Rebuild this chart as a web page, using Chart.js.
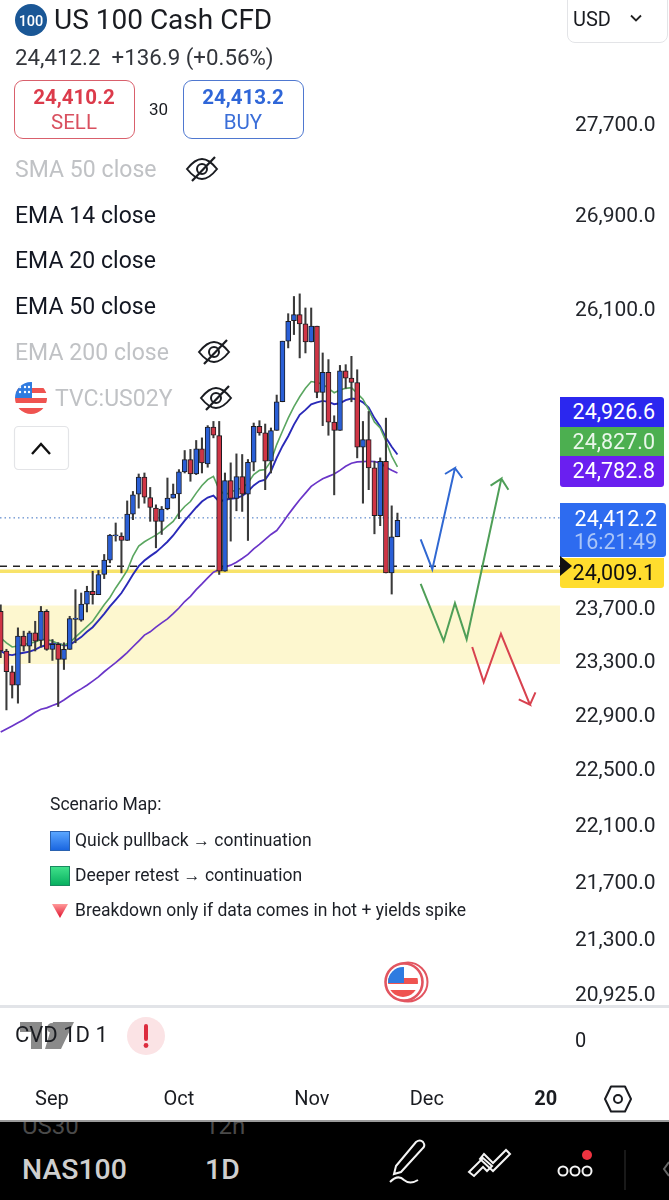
<!DOCTYPE html>
<html>
<head>
<meta charset="utf-8">
<script src="https://cdn.jsdelivr.net/npm/chart.js@4/dist/chart.umd.min.js"></script>
<style>
html,body{margin:0;padding:0;background:#fff;width:669px;height:1200px;overflow:hidden;font-family:Roboto,sans-serif;color:#131722}
#wrap{position:relative;width:669px;height:1200px;overflow:hidden}
canvas{position:absolute;left:0;top:0}
.t{position:absolute;white-space:nowrap;line-height:1}
.ind{font-size:23px;left:15px;letter-spacing:.05px}
.off{color:#c0c2c5}
.badge{position:absolute;left:560px;width:95px;padding-right:9px;text-align:right;color:#fff;font-size:21.5px;line-height:1}
.scn{font-size:17.5px;left:75px;color:#1c1f26}
svg{position:absolute;overflow:visible}
</style>
</head>
<body>
<div id="wrap">
<canvas id="c" width="669" height="1118"></canvas>

<!-- header -->
<svg style="left:15px;top:4px" width="32" height="32"><circle cx="16" cy="16" r="16" fill="#1a5796"/><text x="16" y="21.5" text-anchor="middle" font-family="Roboto" font-size="14.5" font-weight="500" fill="#fff">100</text></svg>
<div class="t" style="left:54px;top:6px;font-size:28px;color:#1a1c21">US 100 Cash CFD</div>
<div class="t" style="left:15px;top:46px;font-size:22.3px;color:#33363c">24,412.2&nbsp; +136.9 (+0.56%)</div>
<div style="position:absolute;left:14px;top:80px;width:119px;height:57px;border:1.5px solid #d9606c;border-radius:9px"></div>
<div class="t" style="left:14px;width:120px;text-align:center;top:87px;font-size:20.5px;font-weight:700;color:#dc3b4b">24,410.2</div>
<div class="t" style="left:14px;width:120px;text-align:center;top:112px;font-size:20.5px;color:#d9505f">SELL</div>
<div class="t" style="left:149px;top:101px;font-size:17px;color:#1a1c21">30</div>
<div style="position:absolute;left:183px;top:80px;width:119px;height:57px;border:1.5px solid #4f78d0;border-radius:9px"></div>
<div class="t" style="left:183px;width:120px;text-align:center;top:87px;font-size:20.5px;font-weight:700;color:#2f66d8">24,413.2</div>
<div class="t" style="left:183px;width:120px;text-align:center;top:112px;font-size:20.5px;color:#3a6ed8">BUY</div>
<div style="position:absolute;left:567px;top:-8px;width:99px;height:49px;border:1.5px solid #e3e4e7;border-radius:8px"></div>
<div class="t" style="left:573px;top:9px;font-size:20px;color:#1a1c21">USD</div>
<svg style="left:630px;top:14px" width="12" height="8"><path d="M1 1.5 L6 6.5 L11 1.5" fill="none" stroke="#222" stroke-width="1.8"/></svg>

<!-- indicator list -->
<div class="t ind off" style="top:158px">SMA 50 close</div>
<div class="t ind" style="top:204px">EMA 14 close</div>
<div class="t ind" style="top:249px">EMA 20 close</div>
<div class="t ind" style="top:295px">EMA 50 close</div>
<div class="t ind off" style="top:341px">EMA 200 close</div>
<div class="t ind off" style="left:55px;top:387px">TVC:US02Y</div>
<svg style="left:0;top:0" width="669" height="500">
  <defs>
    <g id="eye"><path d="M-15 0 Q-7 -10 0 -10 Q7 -10 15 0 Q7 10 0 10 Q-7 10 -15 0 Z" fill="none" stroke="#1a1c21" stroke-width="2"/><circle r="5" fill="none" stroke="#1a1c21" stroke-width="2"/><path d="M-10 12 L13 -12" stroke="#1a1c21" stroke-width="2.2"/></g>
    <clipPath id="fc"><circle cx="31" cy="398" r="16"/></clipPath>
  </defs>
  <use href="#eye" x="202" y="169"/><use href="#eye" x="214" y="352"/><use href="#eye" x="216" y="398"/>
  <g clip-path="url(#fc)">
    <rect x="15" y="382" width="32" height="32" fill="#fff"/>
    <rect x="15" y="388" width="32" height="5" fill="#ef5350"/>
    <rect x="15" y="398" width="32" height="5" fill="#ef5350"/>
    <rect x="15" y="408" width="32" height="6" fill="#ef5350"/>
    <rect x="15" y="382" width="17" height="16" fill="#2f7be0"/>
    <g fill="#fff"><circle cx="20" cy="387" r="1.2"/><circle cx="25" cy="387" r="1.2"/><circle cx="29" cy="387" r="1.2"/><circle cx="20" cy="392" r="1.2"/><circle cx="25" cy="392" r="1.2"/><circle cx="29" cy="392" r="1.2"/></g>
  </g>
  <rect x="14.5" y="426.5" width="54" height="43" rx="4" fill="#fff" stroke="#e3e4e7" stroke-width="1.2"/>
  <path d="M32 454 L41 444 L50 454" fill="none" stroke="#111" stroke-width="2.4"/>
</svg>

<!-- price badges -->
<div class="badge" style="top:397px;height:26px;padding-top:4px;background:#2b27ef;border-radius:0 3px 0 0;">24,926.6</div>
<div class="badge" style="top:427px;height:25px;padding-top:4px;background:#4caf50;color:#e9f7ea">24,827.0</div>
<div class="badge" style="top:456px;height:27px;padding-top:4px;background:#6a1ff0;border-radius:0 0 3px 3px">24,782.8</div>
<div class="badge" style="top:503px;height:49px;padding-top:5px;background:#2d6bf0;width:97px;border-radius:0 3px 3px 0">24,412.2<br><span style="color:#a9c5f8;line-height:24px">16:21:49</span></div>
<div class="badge" style="top:558px;height:26px;padding-top:4px;background:#ffdd2e;color:#111;border-radius:0 0 3px 3px">24,009.1</div>
<svg style="left:560px;top:556px" width="14" height="20"><path d="M0 0 L12 10 L0 20 Z" fill="#111"/></svg>

<!-- scenario notes -->
<div class="t" style="left:50px;top:796px;font-size:17.5px;color:#1c1f26">Scenario Map:</div>
<div style="position:absolute;left:50px;top:831px;width:20px;height:20px;background:linear-gradient(#5aa6ff,#1a66e0);border:1px solid #2a62b0;box-sizing:border-box"></div>
<div class="t scn" style="top:832px">Quick pullback <span style="font-size:17px">→</span> continuation</div>
<div style="position:absolute;left:50px;top:866px;width:20px;height:20px;background:linear-gradient(#3fe08a,#08b060);border:1px solid #188a60;box-sizing:border-box"></div>
<div class="t scn" style="top:867px">Deeper retest <span style="font-size:17px">→</span> continuation</div>
<svg style="left:50px;top:902px" width="20" height="16"><defs><linearGradient id="tg" x1="0" x2="0" y1="0" y2="1"><stop offset="0" stop-color="#ff9a9a"/><stop offset="1" stop-color="#e0102c"/></linearGradient></defs><path d="M2 2 L18 2 L10 16 Z" fill="url(#tg)"/></svg>
<div class="t scn" style="top:902px">Breakdown only if data comes in hot + yields spike</div>

<!-- chart flag marker -->
<svg style="left:383px;top:961px" width="46" height="42">
  <defs><clipPath id="fd"><circle cx="20" cy="21" r="15"/></clipPath></defs>
  <circle cx="25" cy="21" r="19.5" fill="#fff" stroke="#e25560" stroke-width="2"/>
  <circle cx="21" cy="21" r="18.5" fill="#fff" stroke="#e25560" stroke-width="2.6"/>
  <g clip-path="url(#fd)"><rect x="5" y="6" width="30" height="30" fill="#fff"/><rect x="5" y="17" width="30" height="6" fill="#ef5350"/><rect x="5" y="29" width="30" height="8" fill="#ef5350"/><rect x="5" y="6" width="16" height="16" fill="#2f7be0"/></g>
</svg>

<!-- lower pane -->
<div style="position:absolute;left:0;top:1005px;width:669px;height:2.5px;background:#e2e4e8"></div>
<svg style="left:20px;top:1022px" width="54" height="27"><path d="M0 0 H22 V27 H11 V10 H0 Z M33 0 H54 L41 27 H25 Z" fill="#8a8a8a"/><circle cx="32" cy="6" r="5" fill="#8a8a8a"/></svg>
<div class="t" style="left:15px;top:1024px;font-size:22px;color:#1a1c21">CVD 1D 1</div>
<svg style="left:127px;top:1017px" width="38" height="38"><circle cx="19" cy="19" r="19" fill="#fbe3e5"/><path d="M19 9 V22" stroke="#dc2c3e" stroke-width="4" stroke-linecap="round"/><circle cx="19" cy="28.5" r="2.4" fill="#dc2c3e"/></svg>
<div class="t" style="left:575px;top:1030px;font-size:20px;color:#1a1c21">0</div>
<svg style="left:604px;top:1085px" width="28" height="28"><path d="M7 1.5 H21 L27 14 L21 26.5 H7 L1 14 Z" fill="none" stroke="#1a1c21" stroke-width="2" stroke-linejoin="round"/><circle cx="14" cy="14" r="4" fill="none" stroke="#1a1c21" stroke-width="2"/></svg>

<!-- bottom app bar -->
<div style="position:absolute;left:0;top:1120px;width:669px;height:2px;background:#9b9b9b"></div>
<div style="position:absolute;left:0;top:1122px;width:669px;height:78px;background:#000;overflow:hidden">
  <div class="t" style="left:22px;top:-8px;font-size:24px;color:#4a4a4a">US30</div>
  <div class="t" style="left:205px;top:-8px;font-size:24px;color:#4a4a4a">12h</div>
  <div class="t" style="left:22px;top:34px;font-size:28.4px;font-weight:500;color:#cfcfcf">NAS100</div>
  <div class="t" style="left:205px;top:34px;font-size:28.4px;font-weight:500;color:#cfcfcf">1D</div>
  <svg style="left:0;top:0" width="669" height="78" fill="none" stroke="#f4f4f4" stroke-width="2">
    <path d="M396 44 L416 20 Q420 17 423 20 Q426 24 422 27 L401 50 L394 52 Z"/>
    <path d="M390 60 Q398 52 404 58 Q410 63 418 58"/>
    <path d="M469 50 L483 36 L492 44 L487 49 L483 45 L474 54 Z M484 32 L493 41 L506 28 L510 32 L493 49 L480 37 Z"/>
    <circle cx="563" cy="49" r="4.5"/><circle cx="575" cy="49" r="4.5"/><circle cx="587" cy="49" r="4.5"/>
    <circle cx="587" cy="33" r="5" fill="#ef3340" stroke="none"/>
    <path d="M625 28 V68" stroke="#333" stroke-width="1"/>
    <path d="M669 40 L664 47 L669 54" stroke="#666"/>
  </svg>
</div>
</div>

<script>
const candleIndex = Array.from({length:70},(_,i)=>i);
const opens = [23688,23387,23231,23130,23499,23424,23525,23467,23688,23399,23437,23324,23399,23627,23620,23743,23841,23815,23971,24082,24271,24269,24235,24442,24600,24736,24573,24489,24385,24484,24568,24602,24777,24876,24760,24961,24841,25138,25068,23996,24707,24565,24739,24600,24854,25143,25090,24862,25111,25343,25843,26015,26065,25987,25837,25968,25420,25584,25178,25111,25598,25537,25501,24975,25036,24809,24429,24862,23983,24264];
const highs = [23738,23400,23274,23562,23537,23537,23612,23725,23700,23474,23449,23449,23650,23854,23828,23880,23996,24002,24126,24282,24372,24295,24546,24621,24760,24768,24653,24515,24502,24728,24680,24795,24948,24957,25029,25050,25149,25183,25183,24768,24849,24921,24916,24876,25170,25189,25162,25130,25398,25843,26073,26218,26240,26121,26121,25968,25745,25690,25229,25642,25648,25717,25606,25183,25264,24862,24889,25210,24507,24450];
const lows = [23336,22947,23035,22997,23387,23299,23387,23417,23392,23316,22972,23248,23399,23449,23612,23683,23743,23815,23939,24061,24230,23983,24235,24398,24489,24528,24385,24178,24282,24476,24568,24406,24768,24702,24755,24768,24814,25050,23971,23996,24230,24468,24463,24235,24785,25071,24635,24768,25111,25343,25787,25898,25704,25745,25837,25376,25149,25071,24594,25111,25453,25343,24889,24528,24635,24287,24351,23983,23820,24264];
const closes = [23387,23231,23130,23499,23424,23525,23462,23688,23399,23437,23324,23399,23632,23637,23743,23841,23815,23971,24082,24277,24279,24235,24442,24594,24736,24576,24494,24385,24481,24568,24600,24777,24876,24760,24961,24849,25138,25071,23996,24707,24565,24739,24600,24854,25143,25090,24862,25108,25343,25843,26009,26065,25987,25837,25968,25420,25584,25178,25111,25598,25537,25501,24975,25036,24809,24429,24862,23983,24264,24393];
const ema14 = [23487,23449,23417,23424,23437,23444,23454,23474,23474,23462,23442,23432,23449,23492,23532,23572,23612,23675,23738,23794,23867,23932,24002,24113,24191,24225,24251,24277,24308,24347,24385,24450,24502,24541,24608,24669,24715,24741,24635,24594,24616,24635,24648,24688,24755,24789,24795,24862,24996,25103,25210,25304,25384,25453,25509,25501,25487,25453,25417,25440,25453,25459,25412,25364,25277,25178,25130,25023,24903,24817];
const ema20 = [23387,23361,23356,23366,23374,23382,23397,23419,23432,23444,23444,23429,23432,23462,23492,23532,23567,23617,23668,23725,23776,23828,23898,23971,24035,24079,24113,24144,24183,24225,24274,24334,24391,24442,24494,24541,24573,24589,24541,24555,24563,24568,24586,24621,24669,24702,24715,24782,24889,24983,25063,25157,25237,25277,25323,25338,25350,25342,25323,25331,25356,25370,25364,25338,25296,25210,25143,25050,24978,24916];
const ema50 = [22784,22807,22829,22852,22874,22902,22930,22952,22962,22980,22995,23020,23050,23078,23103,23130,23161,23193,23231,23266,23299,23336,23374,23419,23462,23507,23532,23567,23600,23630,23670,23713,23763,23802,23854,23898,23945,23989,24009,24028,24043,24066,24095,24126,24170,24204,24243,24282,24313,24372,24437,24497,24555,24608,24661,24693,24722,24741,24760,24789,24822,24846,24857,24859,24862,24859,24849,24814,24789,24768];
const blueX = [73.04,75.06,79,77.27,79,80.28];
const blueY = [24243,24010,24808,24760,24808,24728];
const greenX = [73.04,77.04,79,81.04,87.07,85.2,87.07,88.3];
const greenY = [23898,23462,23750,23475,24723,24667,24723,24635];
const redX = [82,84,87,92.05,90.1,92.05,93];
const redY = [23417,23153,23517,22985,23025,22985,23077];
const priceLast = 24412.2;
const dashedLevel = 24035;
const yellowLevel = 23996;
const zoneHigh = 23733;
const zoneLow = 23289;
const xRange = [-0.12, 97.27];
const yRange = [20865, 28847];
const yTickValues = [27700,26900,26100,23700,23300,22900,22500,22100,21700,21300,20925];
const xTickValues = [8.9,31,54.1,74.1,94.8];
const xTickLabels = ['Sep','Oct','Nov','Dec','20'];

const pts = (xs,ys)=>xs.map((x,i)=>({x,y:ys[i]}));
const flat = v=>xRange.map(x=>({x,y:v}));
const lineBase = {type:'line',pointRadius:0,fill:false,tension:0};
const wickData = candleIndex.map(i=>({x:i,y:[lows[i],highs[i]]}));
const bodyData = candleIndex.map(i=>({x:i,y:[Math.min(opens[i],closes[i]),Math.max(opens[i],closes[i])]}));
const upColor='#2a5fd6', downColor='#cf3545';

new Chart(document.getElementById('c'),{
  type:'bar',
  data:{datasets:[
    {...lineBase,label:'Zone',data:flat(zoneHigh),borderWidth:0,fill:{value:zoneLow},backgroundColor:'#fdf7cf',order:10},
    {...lineBase,label:'Yellow',data:flat(yellowLevel),borderColor:'#f8e36a',borderWidth:3.5,order:9},
    {...lineBase,label:'Dashed',data:flat(dashedLevel),borderColor:'#222',borderWidth:1.5,borderDash:[7,6],order:8},
    {...lineBase,label:'Last',data:flat(priceLast),borderColor:'#3a6fc0',borderWidth:1,borderDash:[1.5,3],order:7},
    {...lineBase,label:'EMA 50',data:pts(candleIndex,ema50),borderColor:'#6a35c8',borderWidth:1.7,order:6},
    {...lineBase,label:'EMA 14',data:pts(candleIndex,ema14),borderColor:'#5aa660',borderWidth:1.6,order:6},
    {...lineBase,label:'EMA 20',data:pts(candleIndex,ema20),borderColor:'#2a2ab8',borderWidth:1.9,order:6},
    {type:'bar',label:'Wick',data:wickData,backgroundColor:'#3a3a3a',barThickness:1.4,grouped:false,order:3},
    {type:'bar',label:'Body',data:bodyData,barThickness:5,grouped:false,order:2,
      backgroundColor:candleIndex.map(i=>closes[i]>=opens[i]?upColor:downColor),borderColor:'#1c1c22',borderWidth:1,borderSkipped:false},
    {...lineBase,label:'Up',data:pts(blueX,blueY),borderColor:'#3068d2',borderWidth:2,order:1},
    {...lineBase,label:'Retest',data:pts(greenX,greenY),borderColor:'#4f9f58',borderWidth:2,order:1},
    {...lineBase,label:'Down',data:pts(redX,redY),borderColor:'#d8424f',borderWidth:2,order:1}
  ]},
  options:{
    responsive:false,animation:false,
    layout:{padding:0},
    plugins:{legend:{display:false},tooltip:{enabled:false}},
    scales:{
      x:{type:'linear',offset:false,min:xRange[0],max:xRange[1],
        grid:{display:false},border:{display:false},
        afterBuildTicks:s=>{s.ticks=xTickValues.map(value=>({value}));},
        afterFit:s=>{s.height=113;s.paddingLeft=0;s.paddingRight=0;},
        ticks:{autoSkip:false,maxRotation:0,padding:75,color:'#1a1c21',
          font:c=>({family:'Roboto',size:20,weight:c.index===4?'700':'400'}),
          callback:(v,i)=>xTickLabels[i]}
      },
      y:{type:'logarithmic',position:'right',min:yRange[0],max:yRange[1],
        grid:{display:false},border:{display:false},
        afterBuildTicks:s=>{s.ticks=yTickValues.map(value=>({value}));},
        afterFit:s=>{s.width=109;s.paddingTop=0;s.paddingBottom=0;},
        ticks:{autoSkip:false,padding:7,color:'#22252b',font:{family:'Roboto',size:21},
          callback:v=>v.toLocaleString('en-US',{minimumFractionDigits:1,maximumFractionDigits:1})}
      }
    }
  }
});
</script>
</body>
</html>
